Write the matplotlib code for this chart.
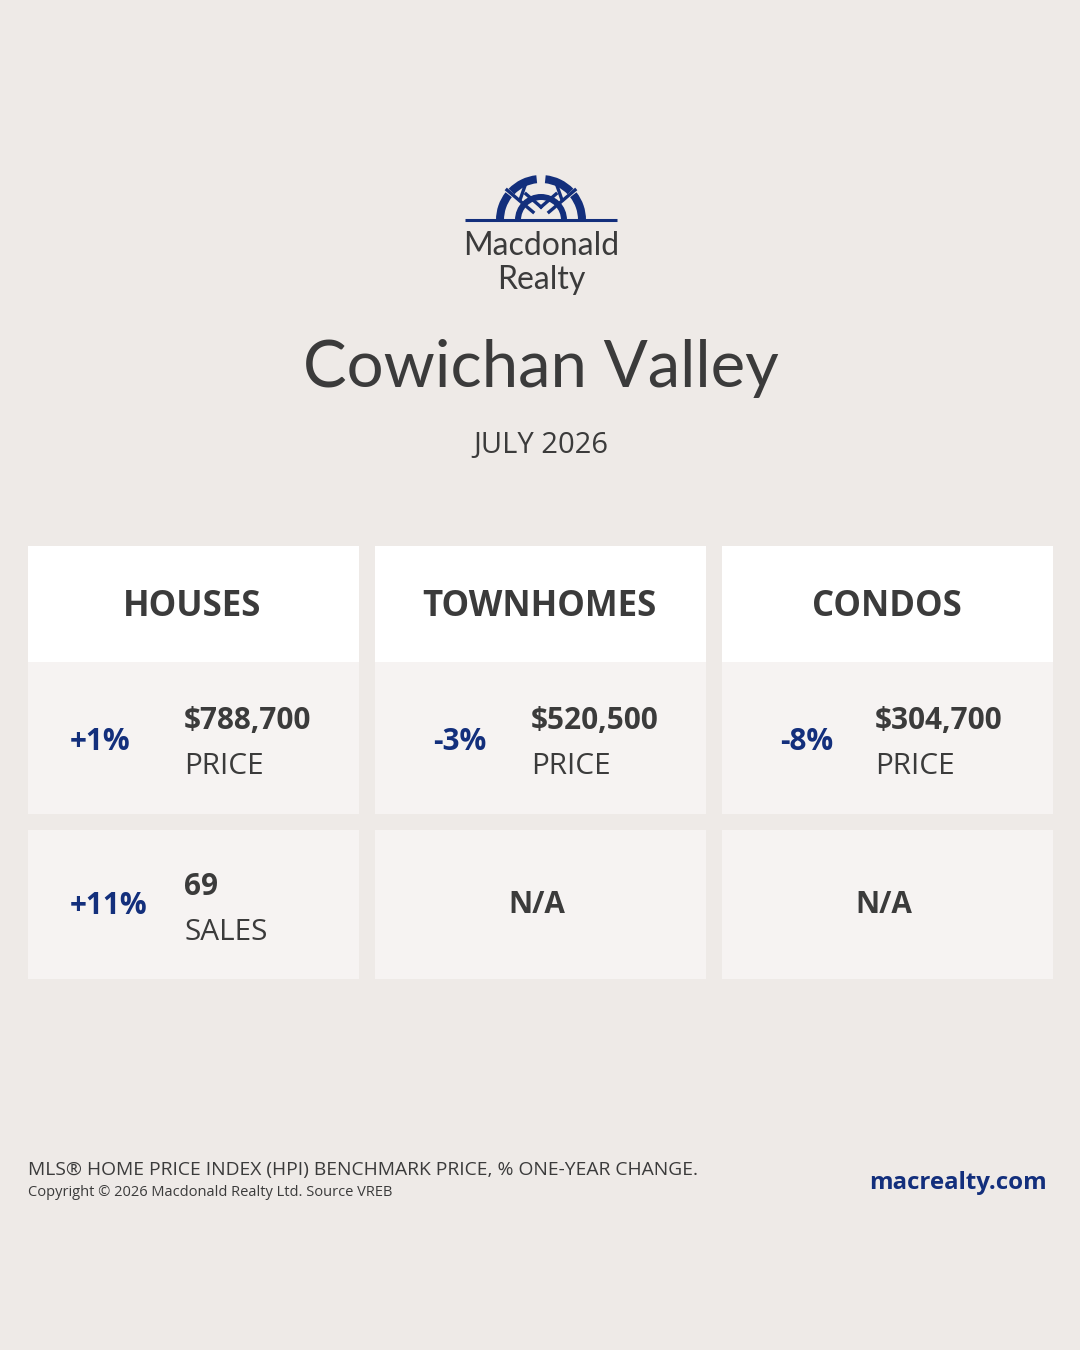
import numpy as np
import matplotlib
matplotlib.use('Agg')
import matplotlib.pyplot as plt
from matplotlib.patches import Rectangle, Wedge

# Data
region = 'Cowichan Valley'
month = 'JULY 2026'
categories = ['HOUSES', 'TOWNHOMES', 'CONDOS']
price_change = ['+1%', '-3%', '-8%']
price_value = ['$788,700', '$520,500', '$304,700']
sales_change = ['+11%', None, None]
sales_value = ['69', None, None]
footnote = 'MLS® HOME PRICE INDEX (HPI) BENCHMARK PRICE, % ONE-YEAR CHANGE.'
copyright_txt = 'Copyright © 2026 Macdonald Realty Ltd. Source VREB'
site = 'macrealty.com'

# Colours
bg = '#eeeae7'
card_head = '#ffffff'
card_body = '#f6f3f2'
dark = '#3b3b3b'
blue = '#132f7c'

fig = plt.figure(figsize=(10.8, 13.5), dpi=100)
fig.patch.set_facecolor(bg)
ax = fig.add_axes([0, 0, 1, 1])
ax.set_xlim(0, 1080)
ax.set_ylim(1350, 0)
ax.axis('off')

# Logo (y axis is flipped, so the upper half of a circle is 180..360 deg)
cx, cy = 541, 220
ax.plot([465, 617], [cy, cy], color=blue, lw=2.2, solid_capstyle='butt')
for a1, a2 in [(180, 218), (224, 264), (276, 316), (322, 360)]:
    ax.add_patch(Wedge((cx, cy), 45, a1, a2, width=8, color=blue, lw=0))
ax.add_patch(Wedge((cx, cy), 26, 180, 360, width=6, color=blue, lw=0))
for x0, y0, x1, y1 in [(507, 190, 533, 212), (527, 180, 520, 200), (526, 194, 541, 207),
                       (575, 190, 549, 212), (555, 180, 562, 200), (556, 194, 541, 207)]:
    ax.plot([x0, x1], [y0, y1], color=blue, lw=2.4)
ax.text(541, 246, 'Macdonald', ha='center', va='center', fontsize=23,
        family='Lato', color=dark)
ax.text(541, 280, 'Realty', ha='center', va='center', fontsize=23,
        family='Lato', color=dark)

# Title
ax.text(541, 368, region, ha='center', va='center', fontsize=47,
        family='Lato', color=dark)
ax.text(541, 446, month, ha='center', va='center', fontsize=21,
        family='Open Sans', color=dark)

# Cards
col_x = [28, 375, 722]
col_w = 331
pct_x = [70, 433, 780]
val_x = [184, 531, 875]
fs = 21.4
for i, cat in enumerate(categories):
    x = col_x[i]
    ax.add_patch(Rectangle((x, 546), col_w, 116, color=card_head, lw=0))
    ax.add_patch(Rectangle((x, 662), col_w, 152, color=card_body, lw=0))
    ax.add_patch(Rectangle((x, 830), col_w, 149, color=card_body, lw=0))
    ax.text(x + col_w / 2 - 1, 607, cat, ha='center', va='center', fontsize=25,
            family='Open Sans', weight='bold', color=dark)
    # price row
    ax.text(pct_x[i], 742, price_change[i], ha='left', va='center', fontsize=fs,
            family='Open Sans', weight='bold', color=blue)
    ax.text(val_x[i], 721, price_value[i], ha='left', va='center', fontsize=fs,
            family='Open Sans', weight='bold', color=dark)
    ax.text(val_x[i], 766, 'PRICE', ha='left', va='center', fontsize=fs,
            family='Open Sans', color=dark)
    # sales row
    if sales_change[i] is None:
        ax.text(x + col_w / 2 - 4, 905, 'N/A', ha='center', va='center', fontsize=fs,
                family='Open Sans', weight='bold', color=dark)
    else:
        ax.text(pct_x[i], 906, sales_change[i], ha='left', va='center', fontsize=fs,
                family='Open Sans', weight='bold', color=blue)
        ax.text(val_x[i], 887, sales_value[i], ha='left', va='center', fontsize=fs,
                family='Open Sans', weight='bold', color=dark)
        ax.text(val_x[i], 932, 'SALES', ha='left', va='center', fontsize=fs,
                family='Open Sans', color=dark)

# Footer
ax.text(28, 1170, footnote, ha='left', va='center', fontsize=13.85,
        family='Open Sans', color=dark)
ax.text(28, 1193, copyright_txt, ha='left', va='center', fontsize=10.5,
        family='Open Sans', color=dark)
ax.text(1047, 1183, site, ha='right', va='center', fontsize=17.3,
        family='Open Sans', weight='bold', color=blue)

fig.savefig('out.png', dpi=100, facecolor=bg)
